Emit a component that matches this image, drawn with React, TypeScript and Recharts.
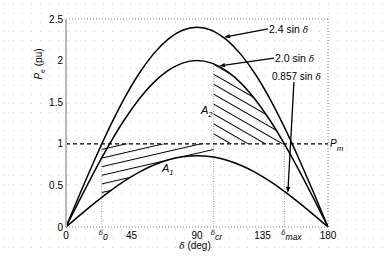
import React from 'react';
import { ComposedChart, Line, Area, XAxis, YAxis, ReferenceLine } from 'recharts';

// power angle (deg) samples
const deltas = [0, 10, 20, 24.6, 30, 40, 50, 60, 70, 80, 90, 100, 101.5, 110, 120, 130, 140, 150, 160, 170, 180];
// 2.4 sin δ
const curve24 = [0, 0.417, 0.821, 0.999, 1.2, 1.543, 1.839, 2.078, 2.255, 2.364, 2.4, 2.364, 2.352, 2.255, 2.078, 1.839, 1.543, 1.2, 0.821, 0.417, 0];
// 2.0 sin δ
const curve20 = [0, 0.347, 0.684, 0.833, 1.0, 1.286, 1.532, 1.732, 1.879, 1.97, 2.0, 1.97, 1.96, 1.879, 1.732, 1.532, 1.286, 1.0, 0.684, 0.347, 0];
// 0.857 sin δ
const curve0857 = [0, 0.149, 0.293, 0.357, 0.429, 0.551, 0.657, 0.742, 0.805, 0.844, 0.857, 0.844, 0.84, 0.805, 0.742, 0.657, 0.551, 0.429, 0.293, 0.149, 0];

const pm = 1;
const delta0 = 24.6;
const deltaCr = 101.5;
const deltaMax = 150;

const xTicks = [0, 24.6, 45, 90, 101.5, 135, 150, 180];
const xTickLabels = ['0', 'δ', '45', '90', 'δ', '135', 'δ', '180'];
const xTickSubs = ['', '0', '', '', 'cr', '', 'max', ''];
const yTicks = [0, 0.5, 1, 1.5, 2, 2.5];

const table = deltas.map((d, i) => ({
  d,
  c24: curve24[i],
  c20: curve20[i],
  c0857: curve0857[i],
  a1: d >= delta0 && d <= deltaCr ? [curve0857[i], pm] : null,
  a2: d >= deltaCr && d <= deltaMax ? [pm, curve20[i]] : null,
}));

const SANS = 'Liberation Sans, Arial, sans-serif';
const SERIF = 'DejaVu Serif, serif';

function XTick(props: any) {
  const { x, y, payload } = props;
  const i = xTicks.indexOf(payload.value);
  const sub = xTickSubs[i];
  if (sub) {
    return (
      <text x={x - 3} y={y + 3} fontFamily={SANS} fill="#000">
        <tspan fontFamily={SERIF} fontStyle="italic" fontSize={7}>{xTickLabels[i]}</tspan>
        <tspan fontSize={8.5} fontStyle="italic" dy={5}>{sub}</tspan>
      </text>
    );
  }
  return (
    <text x={x} y={y + 7} textAnchor="middle" fontFamily={SANS} fontSize={10} fill="#000">
      {xTickLabels[i]}
    </text>
  );
}

function Arrow(props: any) {
  const { x1, y1, x2, y2 } = props;
  const ang = Math.atan2(y2 - y1, x2 - x1);
  const L = 6;
  const W = 2.2;
  const bx = x2 - L * Math.cos(ang);
  const by = y2 - L * Math.sin(ang);
  const px = -Math.sin(ang) * W;
  const py = Math.cos(ang) * W;
  return (
    <g>
      <line x1={x1} y1={y1} x2={bx} y2={by} stroke="#000" strokeWidth={1.3} />
      <polygon points={`${x2},${y2} ${bx + px},${by + py} ${bx - px},${by - py}`} fill="#000" />
    </g>
  );
}

export default function App() {
  return (
    <div style={{ position: 'absolute', left: 0, top: 0, width: 384, height: 256, background: '#fff' }}>
      <svg width={384} height={256} style={{ position: 'absolute', left: 0, top: 0 }}>
        <defs>
          <pattern id="dots" patternUnits="userSpaceOnUse" width={9} height={9}>
            <rect x={4} y={4} width={1} height={1} fill="#d2d2d2" />
          </pattern>
        </defs>
        <rect x={0} y={0} width={384} height={256} fill="url(#dots)" />
      </svg>
      <div style={{ position: 'absolute', left: 0, top: 0 }}>
        <ComposedChart width={384} height={256} data={table} margin={{ top: 19, right: 56, bottom: 9, left: 0 }}>
          <defs>
            <pattern id="hatchA1" patternUnits="userSpaceOnUse" width={12} height={8.4} patternTransform="rotate(-13)">
              <rect x={0} y={0} width={12} height={1} fill="#000" />
            </pattern>
            <pattern id="hatchA2" patternUnits="userSpaceOnUse" width={12} height={8.6} patternTransform="rotate(30)">
              <rect x={0} y={0} width={12} height={1} fill="#000" />
            </pattern>
          </defs>
          <XAxis
            dataKey="d"
            type="number"
            domain={[0, 180]}
            ticks={xTicks}
            interval={0}
            height={20}
            tickSize={0}
            tickMargin={5}
            tick={<XTick />}
            axisLine={{ stroke: '#888', strokeDasharray: '1 2' }}
          />
          <YAxis
            type="number"
            domain={[0, 2.5]}
            ticks={yTicks}
            width={66}
            tickSize={0}
            tickMargin={3}
            tick={{ fontFamily: SANS, fontSize: 10, fill: '#000' }}
            axisLine={{ stroke: '#b8b8b8', strokeWidth: 2 }}
          />
          <ReferenceLine y={2.5} stroke="#888" strokeDasharray="1 2" />
          <ReferenceLine x={180} stroke="#888" strokeDasharray="1 2" />
          <Area dataKey="a1" type="linear" stroke="none" fill="url(#hatchA1)" fillOpacity={1} isAnimationActive={false} />
          <Area dataKey="a2" type="linear" stroke="none" fill="url(#hatchA2)" fillOpacity={1} isAnimationActive={false} />
          <ReferenceLine segment={[{ x: delta0, y: 0 }, { x: delta0, y: pm }]} stroke="#999" strokeDasharray="1 1.5" />
          <ReferenceLine segment={[{ x: deltaCr, y: 0 }, { x: deltaCr, y: 1.96 }]} stroke="#999" strokeDasharray="1 1.5" />
          <ReferenceLine segment={[{ x: deltaMax, y: 0 }, { x: deltaMax, y: pm }]} stroke="#999" strokeDasharray="1 1.5" />
          <ReferenceLine y={pm} stroke="#000" strokeWidth={1.2} strokeDasharray="4 3" />
          <Line dataKey="c24" type="monotone" stroke="#000" strokeWidth={1.5} dot={false} isAnimationActive={false} />
          <Line dataKey="c20" type="monotone" stroke="#000" strokeWidth={1.5} dot={false} isAnimationActive={false} />
          <Line dataKey="c0857" type="monotone" stroke="#000" strokeWidth={1.5} dot={false} isAnimationActive={false} />
          <ReferenceLine segment={[{ x: 138.8, y: 2.38 }, { x: 108.5, y: 2.28 }]} shape={(p: any) => <Arrow {...p} />} />
          <ReferenceLine segment={[{ x: 142.9, y: 2.03 }, { x: 105.1, y: 1.935 }]} shape={(p: any) => <Arrow {...p} />} />
          <ReferenceLine segment={[{ x: 156.6, y: 1.743 }, { x: 152.4, y: 0.41 }]} shape={(p: any) => <Arrow {...p} />} />
        </ComposedChart>
      </div>
      <svg width={384} height={256} style={{ position: 'absolute', left: 0, top: 0, pointerEvents: 'none' }} fontFamily={SANS} fill="#000">
        <text x={269} y={33} fontSize={10.5}>
          2.4 sin <tspan fontFamily={SERIF} fontStyle="italic" fontSize={9}>δ</tspan>
        </text>
        <text x={275} y={62} fontSize={10.5}>
          2.0 sin <tspan fontFamily={SERIF} fontStyle="italic" fontSize={9}>δ</tspan>
        </text>
        <text x={272} y={80} fontSize={10}>
          0.857 sin <tspan fontFamily={SERIF} fontStyle="italic" fontSize={9}>δ</tspan>
        </text>
        <text x={330} y={146.5} fontSize={10} fontStyle="italic">
          P<tspan fontSize={8} dy={4}>m</tspan>
        </text>
        <text x={201} y={114} fontSize={11} fontStyle="italic">
          A<tspan fontSize={7.5} dy={3}>2</tspan>
        </text>
        <text x={162} y={172} fontSize={11} fontStyle="italic">
          A<tspan fontSize={7.5} dy={3}>1</tspan>
        </text>
        <text x={195} y={249} fontSize={10} textAnchor="middle">
          <tspan fontFamily={SERIF} fontStyle="italic" fontSize={9}>δ</tspan> (deg)
        </text>
        <text transform="translate(42,64) rotate(-90)" fontSize={10} textAnchor="middle">
          <tspan fontStyle="italic">P</tspan>
          <tspan fontSize={7} dy={3}>e</tspan>
          <tspan dy={-3}> (pu)</tspan>
        </text>
      </svg>
    </div>
  );
}
